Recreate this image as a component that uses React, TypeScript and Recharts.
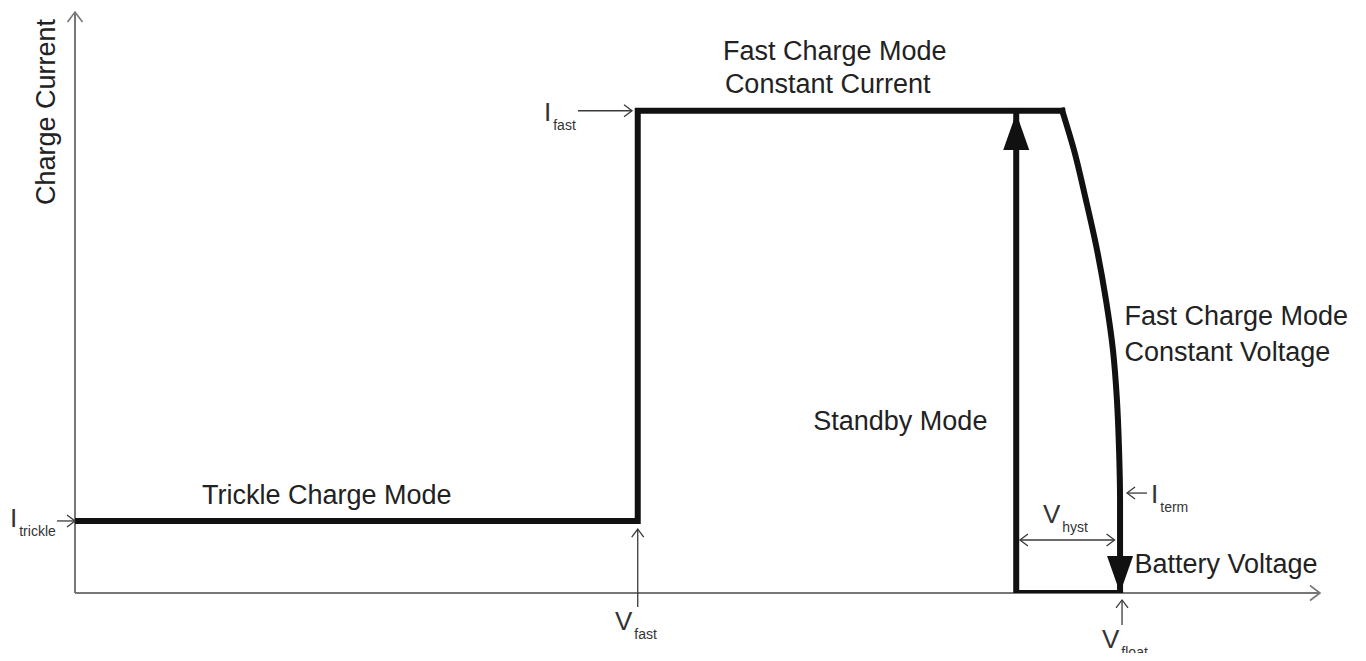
import React from "react";
import { LineChart, Line, XAxis, YAxis, ReferenceLine, ReferenceDot } from "recharts";

// battery voltage / charge current, both in % of the axis length
const ccVoltage = [0, 45.2, 45.2, 79.3];
const ccCurrent = [12.4, 12.4, 83, 83];
const cvVoltage = [79.3, 80.24, 81.2, 82.09, 82.81, 83.37, 83.69, 83.86, 83.94, 83.94];
const cvCurrent = [83, 76.25, 67.64, 59.04, 50.43, 41.82, 33.22, 24.61, 16.0, 0];
const standbyVoltage = [83.94, 75.6, 75.6];
const standbyCurrent = [0, 0, 82.6];

// thresholds marked with thin arrows
const vFast = 45.2;
const vHystLow = 75.9;
const vHystHigh = 83.5;
const vFloat = 84.1;
const iTrickle = 12.4;
const iFast = 83;
const iTerm = 17.2;

const ccPath = ccVoltage.map((v, k) => ({ v, i: ccCurrent[k] }));
const cvPath = cvVoltage.map((v, k) => ({ v, i: cvCurrent[k] }));
const standbyPath = standbyVoltage.map((v, k) => ({ v, i: standbyCurrent[k] }));

const INK = "#111";
const THIN = "#3a3a3a";
const AXIS = "#777";
const FONT = "'Liberation Sans', Arial, sans-serif";

type Dir = "up" | "down" | "left" | "right";

const chevron = (dir: Dir, s = 8, color = THIN, w = 1.3) => (p: any) => {
  const { cx, cy } = p;
  const h = s * 0.75;
  let d = "";
  if (dir === "right") d = `M${cx - s},${cy - h}L${cx},${cy}L${cx - s},${cy + h}`;
  if (dir === "left") d = `M${cx + s},${cy - h}L${cx},${cy}L${cx + s},${cy + h}`;
  if (dir === "up") d = `M${cx - h},${cy + s}L${cx},${cy}L${cx + h},${cy + s}`;
  if (dir === "down") d = `M${cx - h},${cy - s}L${cx},${cy}L${cx + h},${cy - s}`;
  return <path d={d} fill="none" stroke={color} strokeWidth={w} />;
};

const head = (dir: "up" | "down") => (p: any) => {
  const { cx, cy } = p;
  const k = dir === "up" ? 1 : -1;
  return <path d={`M${cx},${cy}L${cx - 13},${cy + k * 37}L${cx + 13},${cy + k * 37}Z`} fill={INK} />;
};

const words = (text: string, rotate = false) => (p: any) => (
  <text
    x={p.cx}
    y={p.cy}
    fontFamily={FONT}
    fontSize={27}
    fill="#222"
    textAnchor={rotate ? "middle" : "start"}
    transform={rotate ? `rotate(-90, ${p.cx}, ${p.cy})` : undefined}
  >
    {text}
  </text>
);

const symbol = (main: string, sub: string) => (p: any) => (
  <text x={p.cx} y={p.cy} fontFamily={FONT} fontSize={26} fill="#333">
    {main}
    <tspan dx={2} dy={9} fontSize={14}>
      {sub}
    </tspan>
  </text>
);

export default function App() {
  const thin = (a: [number, number], b: [number, number], key: string) => (
    <ReferenceLine
      key={key}
      segment={[{ x: a[0], y: a[1] }, { x: b[0], y: b[1] }]}
      stroke={THIN}
      strokeWidth={1.3}
      ifOverflow="visible"
    />
  );
  const dot = (x: number, y: number, shape: any, key: string) => (
    <ReferenceDot key={key} x={x} y={y} r={0} shape={shape} ifOverflow="visible" />
  );
  const thick = (data: any[], type: any) => (
    <Line
      data={data}
      dataKey="i"
      type={type}
      stroke={INK}
      strokeWidth={6}
      strokeLinejoin="miter"
      strokeLinecap="square"
      dot={false}
      activeDot={false}
      isAnimationActive={false}
    />
  );

  return (
    <div style={{ width: 1350, height: 653, marginBottom: -8 }}>
      <LineChart width={1350} height={653} margin={{ top: 4, right: 38, bottom: 68, left: 67 }}>
        <XAxis type="number" dataKey="v" domain={[0, 100]} hide allowDataOverflow />
        <YAxis type="number" dataKey="i" domain={[0, 100]} hide allowDataOverflow />

        {/* axes */}
        <ReferenceLine segment={[{ x: 0, y: 0 }, { x: 100, y: 0 }]} stroke={AXIS} strokeWidth={2} ifOverflow="visible" />
        <ReferenceLine segment={[{ x: 0, y: 0 }, { x: 0, y: 100 }]} stroke={AXIS} strokeWidth={2} ifOverflow="visible" />
        {dot(100, 0, chevron("right", 10, AXIS, 1.6), "xh")}
        {dot(0, 100, chevron("up", 10, AXIS, 1.6), "yh")}

        {thick(ccPath, "linear")}
        {thick(cvPath, "monotoneY")}
        {thick(standbyPath, "linear")}
        {dot(standbyVoltage[2], standbyCurrent[2], head("up"), "hu")}
        {dot(cvVoltage[9], cvCurrent[9], head("down"), "hd")}

        {/* threshold arrows */}
        {thin([-1.45, iTrickle], [0, iTrickle], "a1")}
        {dot(0, iTrickle, chevron("right"), "a1h")}
        {thin([40.4, iFast], [44.74, iFast], "a2")}
        {dot(44.74, iFast, chevron("right"), "a2h")}
        {thin([vFast, -2.41], [vFast, 11.0], "a3")}
        {dot(vFast, 11.0, chevron("up"), "a3h")}
        {thin([vHystLow, 9.12], [vHystHigh, 9.12], "a4")}
        {dot(vHystLow, 9.12, chevron("left"), "a4l")}
        {dot(vHystHigh, 9.12, chevron("right"), "a4r")}
        {thin([86.1, iTerm], [84.5, iTerm], "a5")}
        {dot(84.5, iTerm, chevron("left"), "a5h")}
        {thin([vFloat, -5.5], [vFloat, -1.2], "a6")}
        {dot(vFloat, -1.2, chevron("up"), "a6h")}

        {/* symbols */}
        {dot(-5.22, 11.36, symbol("I", "trickle"), "s1")}
        {dot(37.67, 81.24, symbol("I", "fast"), "s2")}
        {dot(43.37, -6.37, symbol("V", "fast"), "s3")}
        {dot(77.75, 12.05, symbol("V", "hyst"), "s4")}
        {dot(86.43, 15.49, symbol("I", "term"), "s5")}
        {dot(82.49, -9.5, symbol("V", "float"), "s6")}

        {/* mode labels */}
        {dot(52.05, 91.7, words("Fast Charge Mode"), "t1")}
        {dot(52.2, 86.0, words("Constant Current"), "t2")}
        {dot(84.3, 46.05, words("Fast Charge Mode"), "t3")}
        {dot(84.3, 40.0, words("Constant Voltage"), "t4")}
        {dot(59.3, 28.0, words("Standby Mode"), "t5")}
        {dot(10.2, 15.4, words("Trickle Charge Mode"), "t6")}
        {dot(85.1, 3.37, words("Battery Voltage"), "t7")}
        {dot(-1.6, 82.8, words("Charge Current", true), "t8")}
      </LineChart>
    </div>
  );
}
